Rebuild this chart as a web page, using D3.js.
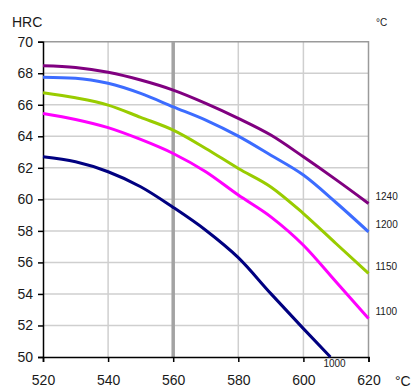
<!DOCTYPE html>
<html><head><meta charset="utf-8">
<script src="https://cdn.jsdelivr.net/npm/d3@7"></script>
<style>body{margin:0;background:#fff}svg{display:block}text{font-family:"Liberation Sans",Arial,sans-serif;fill:#1a1a1a}</style>
</head><body>
<script>
const temps = [520,530,540,550,560,570,580,590,600,610,620];
const navyTemps = [520,530,540,550,560,570,580,590,600,608.3];
const hrc1240 = [68.48,68.37,68.06,67.57,66.93,66.09,65.14,64.08,62.70,61.25,59.74];
const hrc1200 = [67.74,67.68,67.36,66.72,65.87,65.03,64.01,62.80,61.54,59.80,57.94];
const hrc1150 = [66.76,66.44,65.98,65.20,64.39,63.23,61.96,60.79,59.10,57.20,55.30];
const hrc1100 = [65.45,65.07,64.55,63.80,62.91,61.75,60.27,58.89,57.09,54.77,52.44];
const hrc1000 = [62.70,62.38,61.75,60.80,59.49,58.04,56.30,54.02,51.80,50.00];
const seriesLabels = ["1240","1200","1150","1100","1000"];
const seriesColors = ["#800080","#3c6cff","#99cc00","#ff00ff","#000080"];
const xTicks = [520,540,560,580,600,620];
const yTicks = [50,52,54,56,58,60,62,64,66,68,70];
const markerTemp = 560;

const W=413,H=388;
const svg=d3.select("body").append("svg").attr("width",W).attr("height",H);
const x=d3.scaleLinear().domain([520,620]).range([43,368.5]);
const y=d3.scaleLinear().domain([50,70]).range([357,41.7]);

// grid
svg.append("g").selectAll("line").data(yTicks.slice(1,-1)).join("line")
  .attr("x1",x(520)).attr("x2",x(620)).attr("y1",d=>y(d)).attr("y2",d=>y(d))
  .attr("stroke","#cfcfcf").attr("stroke-width",1.5);
svg.append("g").selectAll("line").data(xTicks.slice(1,-1)).join("line")
  .attr("y1",y(50)).attr("y2",y(70)).attr("x1",d=>x(d)).attr("x2",d=>x(d))
  .attr("stroke","#cfcfcf").attr("stroke-width",1.5);
// frame top/right
svg.append("path").attr("d",`M${x(520)},${y(70)}H${x(620)}V${y(50)}`)
  .attr("fill","none").attr("stroke","#9a9a9a").attr("stroke-width",1.5);
// marker line
svg.append("line").attr("x1",x(markerTemp)).attr("x2",x(markerTemp))
  .attr("y1",y(70)).attr("y2",y(50)).attr("stroke","#a3a3a3").attr("stroke-width",3.5);

// axes
const xAxis=svg.append("g").attr("transform",`translate(0,${y(50)})`)
  .call(d3.axisBottom(x).tickValues(xTicks).tickSize(5).tickPadding(13).tickFormat(d3.format("d")));
const yAxis=svg.append("g").attr("transform",`translate(${x(520)},0)`)
  .call(d3.axisLeft(y).tickValues(yTicks).tickSize(5).tickPadding(5).tickFormat(d3.format("d")));
[xAxis,yAxis].forEach(a=>{
  a.select(".domain").attr("stroke","#000").attr("stroke-width",1.5);
  a.selectAll(".tick line").attr("stroke","#000").attr("stroke-width",1.5);
  a.selectAll("text").attr("font-size",14).attr("fill","#1a1a1a").style("font-family","'Liberation Sans',Arial,sans-serif");
});

// series
const series=[
  {t:temps,v:hrc1240},{t:temps,v:hrc1200},{t:temps,v:hrc1150},{t:temps,v:hrc1100},{t:navyTemps,v:hrc1000}
];
const line=d3.line().x(d=>x(d[0])).y(d=>y(d[1])).curve(d3.curveMonotoneX);
series.forEach((s,i)=>{
  const pts=s.t.map((t,j)=>[t,s.v[j]]);
  svg.append("path").attr("d",line(pts)).attr("fill","none")
    .attr("stroke",seriesColors[i]).attr("stroke-width",3);
  const last=pts[pts.length-1];
  const tx=svg.append("text").text(seriesLabels[i]).attr("font-size",10);
  if(i<4){
    tx.attr("x",x(620)+7).attr("y",y(last[1])-6).attr("dominant-baseline","middle");
  } else {
    tx.attr("x",x(last[0])-7).attr("y",y(50)+7).attr("dominant-baseline","middle");
  }
});

svg.append("text").text("HRC").attr("x",12).attr("y",27).attr("font-size",14);
svg.append("text").text("°C").attr("x",376).attr("y",26).attr("font-size",10);
svg.append("text").text("°C").attr("x",395).attr("y",386).attr("font-size",14);
</script>
</body></html>
